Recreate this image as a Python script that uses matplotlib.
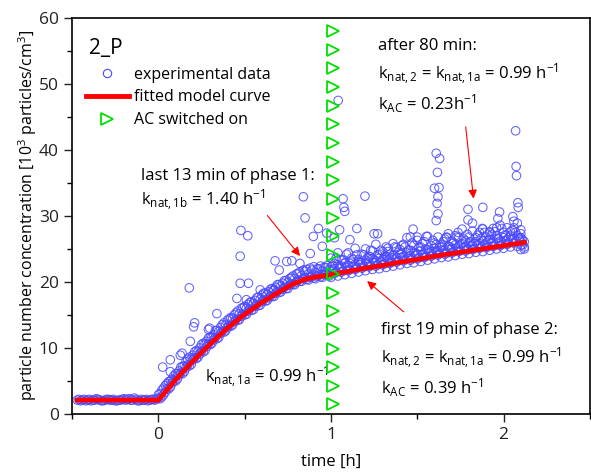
import matplotlib
matplotlib.use("Agg")
import matplotlib.pyplot as plt
from matplotlib.lines import Line2D

plt.rcParams['font.family'] = ['Open Sans', 'DejaVu Sans']
plt.rcParams['mathtext.fontset'] = 'custom'
plt.rcParams['mathtext.rm'] = 'Open Sans'
plt.rcParams['mathtext.it'] = 'Open Sans'
plt.rcParams['font.size'] = 12

# baseline before the source starts
base_x = [-0.47, -0.45, -0.43, -0.41, -0.39, -0.37, -0.35, -0.33, -0.31, -0.29, -0.27, -0.25,
          -0.23, -0.21, -0.19, -0.17, -0.15, -0.13, -0.11, -0.09, -0.07, -0.05, -0.03, -0.01]
base_y = [2.1, 2.0, 2.2, 2.1, 2.0, 2.1, 2.2, 2.0, 2.1, 2.2, 2.1, 2.0,
          2.1, 2.2, 2.1, 2.3, 2.1, 2.2, 2.0, 2.1, 2.2, 2.1, 2.2, 2.3]
base_x2 = [-0.46, -0.44, -0.42, -0.40, -0.38, -0.36, -0.34, -0.32, -0.30, -0.28, -0.26, -0.24,
           -0.22, -0.20, -0.18, -0.16, -0.14, -0.12, -0.10, -0.08, -0.06, -0.04, -0.02]
base_y2 = [2.2, 2.1, 2.0, 2.2, 2.1, 2.3, 2.1, 2.0, 2.2, 2.1, 2.2, 2.0,
           2.1, 2.3, 2.2, 2.1, 2.4, 2.0, 2.2, 2.1, 2.0, 2.2, 2.1]

# phase 1 band
p1_x = [0.00, 0.02, 0.04, 0.06, 0.08, 0.10, 0.12, 0.14, 0.16, 0.18, 0.20, 0.22, 0.24, 0.26,
        0.28, 0.30, 0.32, 0.34, 0.36, 0.38, 0.40, 0.42, 0.44, 0.46, 0.48, 0.50, 0.52, 0.54,
        0.56, 0.58, 0.60, 0.62, 0.64, 0.66, 0.68, 0.70, 0.72, 0.74, 0.76, 0.78, 0.80, 0.82,
        0.84, 0.86, 0.88, 0.90, 0.92, 0.94, 0.96, 0.98]
p1_ya = [2.4, 2.6, 3.3, 3.8, 4.7, 5.0, 5.9, 6.1, 7.0, 7.3, 8.2, 8.4, 9.1, 9.4,
         10.2, 10.5, 11.2, 11.4, 12.2, 12.4, 13.1, 13.3, 14.0, 14.2, 14.8, 15.0, 15.6, 15.7,
         16.3, 16.4, 17.0, 17.1, 17.6, 17.8, 18.3, 18.4, 18.9, 19.0, 19.5, 19.6, 20.0, 20.1,
         20.5, 20.4, 20.7, 20.6, 20.9, 20.8, 21.1, 21.0]
p1_yb = [2.9, 3.6, 4.3, 4.9, 5.3, 6.1, 6.5, 7.2, 7.9, 8.6, 8.9, 9.6, 10.0, 10.7,
         11.0, 11.6, 12.0, 12.7, 13.1, 13.8, 14.2, 14.6, 15.0, 15.6, 16.0, 16.3, 16.6, 17.0,
         17.2, 17.7, 18.0, 18.3, 18.5, 19.0, 19.2, 19.6, 19.8, 20.2, 20.5, 20.9, 21.2, 21.5,
         21.8, 21.9, 22.1, 22.3, 22.0, 22.4, 22.2, 22.5]
p1_x2 = [0.01, 0.03, 0.05, 0.07, 0.09, 0.11, 0.13, 0.15, 0.17, 0.19, 0.21, 0.23, 0.25, 0.27,
         0.29, 0.31, 0.33, 0.35, 0.37, 0.39, 0.41, 0.43, 0.45, 0.47, 0.49, 0.51, 0.53, 0.55,
         0.57, 0.59, 0.61, 0.63, 0.65, 0.67, 0.69, 0.71, 0.73, 0.75, 0.77, 0.79, 0.81, 0.83,
         0.85, 0.87, 0.89, 0.91, 0.93, 0.95, 0.97, 0.99]
p1_yc = [2.3, 2.9, 3.8, 4.1, 5.0, 5.3, 6.2, 6.4, 7.4, 7.5, 8.5, 8.6, 9.5, 9.6,
         10.6, 10.7, 11.6, 11.6, 12.5, 12.6, 13.4, 13.5, 14.3, 14.3, 15.1, 15.1, 15.9, 15.8,
         16.6, 16.5, 17.3, 17.2, 17.9, 17.8, 18.6, 18.5, 19.2, 19.0, 19.7, 19.6, 20.3, 20.1,
         20.6, 20.3, 20.8, 20.5, 21.0, 20.7, 21.2, 20.9]
p1_yd = [3.1, 3.9, 4.6, 5.0, 5.8, 6.1, 7.1, 7.3, 8.3, 8.4, 9.4, 9.5, 10.5, 10.6,
         11.5, 11.6, 12.6, 12.5, 13.5, 13.5, 14.4, 14.5, 15.3, 15.2, 16.1, 16.0, 16.9, 16.7,
         17.6, 17.4, 18.3, 18.1, 18.9, 18.7, 19.6, 19.4, 20.2, 19.9, 20.7, 20.5, 21.3, 21.0,
         21.6, 21.2, 21.8, 21.4, 22.0, 21.6, 22.2, 21.8]

# phase 2 band
p2_x = [1.00, 1.02, 1.04, 1.06, 1.08, 1.10, 1.12, 1.14, 1.16, 1.18, 1.20, 1.22, 1.24, 1.26,
        1.28, 1.30, 1.32, 1.34, 1.36, 1.38, 1.40, 1.42, 1.44, 1.46, 1.48, 1.50, 1.52, 1.54,
        1.56, 1.58, 1.60, 1.62, 1.64, 1.66, 1.68, 1.70, 1.72, 1.74, 1.76, 1.78, 1.80, 1.82,
        1.84, 1.86, 1.88, 1.90, 1.92, 1.94, 1.96, 1.98, 2.00, 2.02, 2.04, 2.06, 2.08, 2.10, 2.12]
p2_ya = [20.7, 21.3, 20.9, 21.5, 21.1, 21.7, 21.3, 21.9, 21.5, 22.1, 21.7, 22.3, 21.9, 22.4,
         22.0, 22.6, 22.2, 22.8, 22.4, 23.0, 22.6, 23.2, 22.8, 23.3, 22.9, 23.5, 23.1, 23.7,
         23.3, 23.9, 23.5, 24.1, 23.7, 24.2, 23.8, 24.4, 24.0, 24.6, 24.2, 24.7, 24.3, 24.9,
         24.5, 25.1, 24.6, 25.2, 24.8, 25.4, 25.0, 25.5, 25.1, 25.7, 25.3, 25.9, 25.4, 24.9, 25.3]
p2_yb = [22.3, 22.0, 22.6, 22.4, 22.8, 22.5, 23.0, 22.7, 23.1, 22.9, 23.3, 23.0, 23.5, 23.2,
         23.6, 23.4, 23.8, 23.5, 24.0, 23.7, 24.2, 23.9, 24.4, 24.0, 24.5, 24.2, 24.7, 24.4,
         24.9, 24.6, 25.1, 24.8, 25.3, 24.9, 25.4, 25.1, 25.6, 25.3, 25.8, 25.4, 25.9, 25.6,
         26.1, 25.8, 26.2, 25.9, 26.4, 26.1, 26.6, 26.2, 26.7, 26.4, 26.9, 26.6, 27.0, 26.7, 26.1]
p2_yc = [23.6, 22.8, 24.4, 23.4, 22.9, 24.4, 23.6, 25.1, 23.4, 24.2, 25.0, 23.9, 24.7, 25.7,
         24.2, 24.6, 25.3, 24.2, 25.8, 25.2, 24.9, 25.7, 26.7, 24.8, 25.5, 26.3, 25.3, 26.1,
         26.9, 25.5, 25.9, 26.8, 25.6, 26.5, 27.3, 26.2, 27.0, 26.7, 28.0, 26.2, 26.8, 27.7,
         26.7, 27.5, 28.0, 26.8, 27.5, 28.1, 27.0, 28.6, 27.5, 28.2, 27.6, 28.2, 28.9, 27.3, 25.0]
p2_x2 = [1.01, 1.03, 1.05, 1.07, 1.09, 1.11, 1.13, 1.15, 1.17, 1.19, 1.21, 1.23, 1.25, 1.27,
         1.29, 1.31, 1.33, 1.35, 1.37, 1.39, 1.41, 1.43, 1.45, 1.47, 1.49, 1.51, 1.53, 1.55,
         1.57, 1.59, 1.61, 1.63, 1.65, 1.67, 1.69, 1.71, 1.73, 1.75, 1.77, 1.79, 1.81, 1.83,
         1.85, 1.87, 1.89, 1.91, 1.93, 1.95, 1.97, 1.99, 2.01, 2.03, 2.05, 2.07, 2.09, 2.11]
p2_yd = [21.8, 21.5, 22.0, 21.7, 22.2, 21.9, 22.3, 22.1, 22.6, 22.3, 22.8, 22.5, 22.9, 22.6,
         23.1, 22.8, 23.3, 23.0, 23.5, 23.2, 23.7, 23.4, 23.8, 23.5, 24.0, 23.7, 24.2, 23.9,
         24.4, 24.1, 24.6, 24.3, 24.7, 24.4, 24.9, 24.6, 25.1, 24.8, 25.2, 24.9, 25.4, 25.1,
         25.6, 25.3, 25.7, 25.4, 25.9, 25.6, 26.0, 25.7, 26.2, 25.9, 26.4, 26.1, 26.5, 25.6]
p2_ye = [22.4, 23.6, 22.3, 23.3, 24.2, 22.8, 23.4, 24.1, 22.9, 24.1, 23.6, 24.8, 23.3, 24.1,
         24.8, 23.8, 24.6, 23.7, 25.3, 24.5, 24.2, 25.3, 24.8, 25.9, 24.4, 25.3, 25.8, 25.0,
         24.7, 26.3, 25.7, 25.3, 26.1, 26.8, 25.3, 25.9, 26.8, 25.7, 26.5, 27.2, 26.1, 25.8,
         27.1, 26.6, 27.5, 26.2, 27.1, 27.6, 26.6, 28.1, 27.1, 26.7, 27.8, 27.5, 26.7, 26.4]

# scattered outliers
out_x = [0.025, 0.069, 0.069, 0.127, 0.137, 0.185, 0.179, 0.204, 0.21, 0.29, 0.297, 0.339,
         0.455, 0.474, 0.522, 0.474, 0.478, 0.518, 0.51, 0.59, 0.667, 0.676, 0.70, 0.744,
         0.773, 0.82, 0.84, 0.85, 0.88, 0.898, 0.927, 0.95, 0.975,
         1.042, 1.07, 1.075, 1.08, 1.197, 1.05, 1.02, 1.11, 1.15, 1.25, 1.27, 1.33, 1.41,
         1.225, 1.476, 1.46, 1.50, 1.553, 1.61, 1.63, 1.617, 1.60, 1.626, 1.62, 1.615, 1.62,
         1.61, 1.669, 1.736, 1.794, 1.88, 1.794, 1.82, 1.877, 1.92, 1.96, 1.977, 1.967,
         2.054, 2.06, 2.07, 2.073, 2.075, 2.083, 2.085, 2.10, 2.10]
out_y = [7.1, 8.2, 6.4, 8.9, 9.2, 11.0, 19.1, 13.2, 13.8, 12.8, 13.0, 15.2,
         17.5, 19.8, 19.8, 23.9, 27.8, 27.0, 17.3, 18.8, 18.8, 23.2, 21.8, 23.1,
         23.2, 22.8, 32.9, 29.7, 24.3, 26.9, 28.1, 25.4, 27.4,
         47.5, 32.6, 31.3, 30.7, 33.0, 27.9, 26.7, 26.4, 28.1, 27.3, 27.3, 25.1, 25.5,
         23.8, 28.0, 26.8, 26.8, 26.9, 39.5, 38.7, 36.6, 34.2, 34.3, 32.9, 31.9, 30.3,
         29.3, 26.7, 27.5, 31.0, 31.3, 29.4, 28.9, 28.1, 27.6, 28.2, 30.6, 29.6,
         29.9, 29.2, 42.9, 37.5, 36.1, 32.0, 31.3, 27.9, 25.6]

# fitted model curve
fit_x = [-0.47, 0.0, 0.1, 0.2, 0.3, 0.4, 0.5, 0.6, 0.7, 0.78, 0.85, 0.9, 0.95, 1.0,
         1.1, 1.2, 1.3, 1.4, 1.5, 1.6, 1.7, 1.8, 1.9, 2.0, 2.1, 2.12]
fit_y = [2.1, 2.1, 5.2, 8.0, 10.6, 13.0, 15.1, 16.9, 18.5, 19.7, 20.4, 20.7, 20.9, 21.1,
         21.6, 22.1, 22.5, 23.0, 23.4, 23.9, 24.3, 24.7, 25.1, 25.5, 25.9, 26.0]

# AC switched on marker column
ac_x = [1.01] * 21
ac_y = [1.5, 4.3, 7.1, 9.9, 12.8, 15.6, 18.4, 21.2, 24.1, 26.9, 29.7, 32.6, 35.4,
        38.2, 41.0, 43.9, 46.7, 49.5, 52.4, 55.2, 58.0]

blue = '#4848ff'
green = '#00e000'

fig = plt.figure(figsize=(5.91, 4.72), dpi=100)
ax = fig.add_axes([0.122, 0.123, 0.876, 0.839])

sc_kw = dict(s=38, facecolors='none', edgecolors=blue, linewidths=0.75, alpha=0.85, zorder=2)
ax.scatter(base_x, base_y, **sc_kw)
ax.scatter(base_x2, base_y2, **sc_kw)
for yy in (p1_ya, p1_yb):
    ax.scatter(p1_x, yy, **sc_kw)
for yy in (p1_yc, p1_yd):
    ax.scatter(p1_x2, yy, **sc_kw)
for yy in (p2_ya, p2_yb, p2_yc):
    ax.scatter(p2_x, yy, **sc_kw)
for yy in (p2_yd, p2_ye):
    ax.scatter(p2_x2, yy, **sc_kw)
ax.scatter(out_x, out_y, **sc_kw)

ax.plot(fit_x, fit_y, color='red', lw=3.5, zorder=3)
ax.plot(ac_x, ac_y, ls='none', marker='>', ms=9, mfc='none', mec=green, mew=1.3, zorder=4)

ax.set_xlim(-0.5, 2.5)
ax.set_ylim(0, 60)
ax.set_xticks([0, 1, 2])
ax.set_xticks([-0.5, 0.5, 1.5, 2.5], minor=True)
ax.set_yticks([0, 10, 20, 30, 40, 50, 60])
ax.set_yticks([5, 15, 25, 35, 45, 55], minor=True)
ax.tick_params(which='major', direction='out', length=6, width=1, labelsize=12.5, colors='#222222')
ax.tick_params(which='minor', direction='out', length=3.5, width=1)
ax.tick_params(axis='x', which='both', top=False)
ax.tick_params(axis='y', which='both', right=False)
for sp in ax.spines.values():
    sp.set_linewidth(1.2)

ax.set_xlabel('time [h]', fontsize=12)
ax.xaxis.set_label_coords(0.5, -0.1)
ax.set_ylabel('particle number concentration [10$^3$ particles/cm$^3$]', fontsize=11.5)
ax.yaxis.set_label_coords(-0.064, 0.5)

ax.text(-0.40, 55.4, '2_P', fontsize=15, va='center', ha='left')

handles = [
    Line2D([], [], ls='none', marker='o', ms=6, mfc='none', mec=blue, mew=0.8),
    Line2D([], [], color='red', lw=3.5),
    Line2D([], [], ls='none', marker='>', ms=9, mfc='none', mec=green, mew=1.3),
]
labels = ['experimental data', 'fitted model curve', 'AC switched on']
ax.legend(handles, labels, loc='upper left', bbox_to_anchor=(0.005, 0.905), frameon=False,
          fontsize=11.5, handlelength=2.7, handletextpad=0.3, labelspacing=0.42, borderaxespad=0.3)

fs = 12
ax.text(1.27, 55.7, 'after 80 min:', fontsize=fs, va='center')
ax.text(1.27, 51.5, r'k$_{\mathrm{nat,2}}$ = k$_{\mathrm{nat,1a}}$ = 0.99 h$^{-1}$', fontsize=fs, va='center')
ax.text(1.27, 47.0, r'k$_{\mathrm{AC}}$ = 0.23h$^{-1}$', fontsize=fs, va='center')

ax.text(-0.1, 36.0, 'last 13 min of phase 1:', fontsize=fs, va='center')
ax.text(-0.1, 32.3, r'k$_{\mathrm{nat,1b}}$ = 1.40 h$^{-1}$', fontsize=fs, va='center')

ax.text(0.27, 5.6, r'k$_{\mathrm{nat,1a}}$ = 0.99 h$^{-1}$', fontsize=fs, va='center')

ax.text(1.29, 12.7, 'first 19 min of phase 2:', fontsize=fs, va='center')
ax.text(1.29, 8.4, r'k$_{\mathrm{nat,2}}$ = k$_{\mathrm{nat,1a}}$ = 0.99 h$^{-1}$', fontsize=fs, va='center')
ax.text(1.29, 4.0, r'k$_{\mathrm{AC}}$ = 0.39 h$^{-1}$', fontsize=fs, va='center')

arr = dict(arrowstyle='-|>', color='red', lw=0.8, mutation_scale=13)
ax.annotate('', xy=(0.831, 23.6), xytext=(0.621, 30.4), arrowprops=arr, zorder=5)
ax.annotate('', xy=(1.828, 32.2), xytext=(1.779, 43.9), arrowprops=arr, zorder=5)
ax.annotate('', xy=(1.197, 20.4), xytext=(1.434, 15.2), arrowprops=arr, zorder=5)

fig.savefig('out.png', dpi=100)
